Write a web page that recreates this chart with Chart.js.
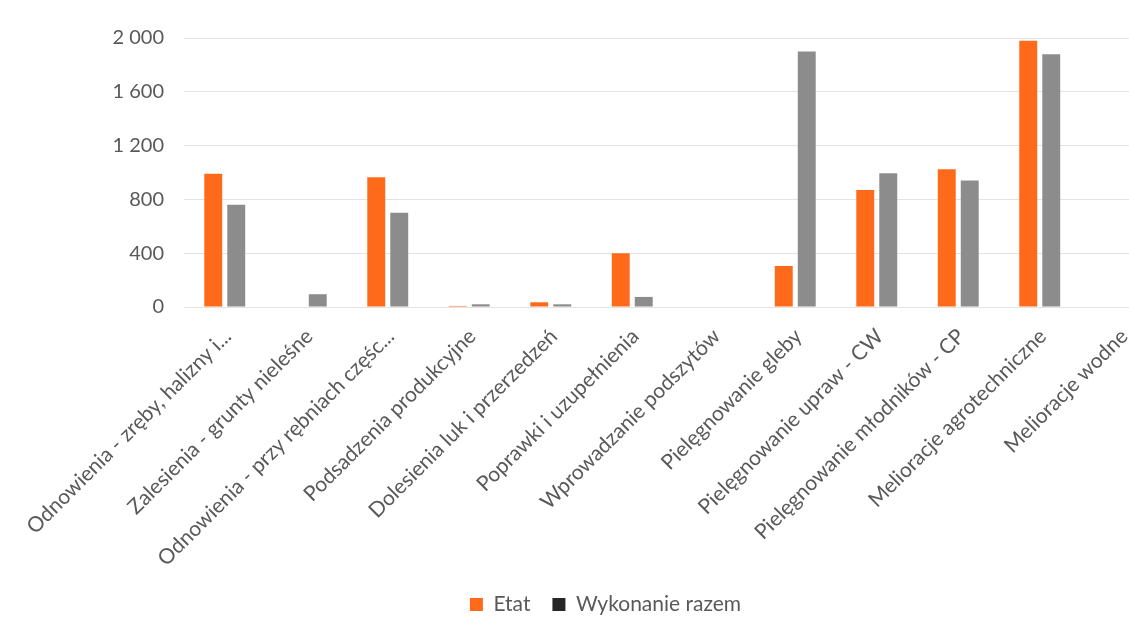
<!DOCTYPE html>
<html>
<head>
<meta charset="utf-8">
<script src="https://cdn.jsdelivr.net/npm/chart.js@4/dist/chart.umd.min.js"></script>
<style>
  html, body { margin: 0; padding: 0; background: #fff; overflow: hidden; }
  #wrap { width: 1170px; height: 637px; }
</style>
</head>
<body>
<div id="wrap"><canvas id="chart"></canvas></div>
<script>
// Categories and values
const categories = [
  'Odnowienia - zręby, halizny i...',
  'Zalesienia - grunty nieleśne',
  'Odnowienia - przy rębniach częśc...',
  'Podsadzenia produkcyjne',
  'Dolesienia luk i przerzedzeń',
  'Poprawki i uzupełnienia',
  'Wprowadzanie podszytów',
  'Pielęgnowanie gleby',
  'Pielęgnowanie upraw - CW',
  'Pielęgnowanie młodników - CP',
  'Melioracje agrotechniczne',
  'Melioracje wodne'
];
const etatValues = [990, 0, 965, 8, 35, 400, 0, 305, 870, 1025, 1980, 0];
const wykonanieValues = [760, 95, 700, 20, 20, 75, 0, 1900, 995, 940, 1880, 0];
const yTicks = [0, 400, 800, 1200, 1600, 2000];

const textColor = '#595959';
const fontFamily = 'Lato, "Open Sans", sans-serif';

const formatThousands = v => String(v).replace(/\B(?=(\d{3})+(?!\d))/g, ' ');

const chartCanvas = document.getElementById('chart');

const chart = new Chart(chartCanvas, {
    type: 'bar',
    data: {
        labels: categories,
        datasets: [{
            label: 'Etat',
            data: etatValues,
            backgroundColor: '#ff6a1a',
            categoryPercentage: 0.564,
            barPercentage: 0.78
        }, {
            label: 'Wykonanie razem',
            data: wykonanieValues,
            backgroundColor: '#8c8c8c',
            categoryPercentage: 0.564,
            barPercentage: 0.78
        }]
    },
    options: {
        responsive: true,
        maintainAspectRatio: false,
        animation: false,
        layout: {
            padding: { left: 49, right: 8, top: 38, bottom: 12 }
        },
        scales: {
            x: {
                grid: { display: false },
                border: { display: false },
                afterFit: axis => { axis.height = 265; },
                ticks: {
                    autoSkip: false,
                    minRotation: 45,
                    maxRotation: 45,
                    padding: 9,
                    labelOffset: 3,
                    color: textColor,
                    font: { family: fontFamily, size: 21 }
                }
            },
            y: {
                min: 0,
                max: 2000,
                afterBuildTicks: axis => { axis.ticks = yTicks.map(v => ({ value: v })); },
                afterFit: axis => { axis.width = 135; },
                grid: { color: '#e3e3e3', drawTicks: false },
                border: { display: false },
                ticks: {
                    padding: 20,
                    color: textColor,
                    font: { family: fontFamily, size: 20 },
                    callback: v => formatThousands(v)
                }
            }
        },
        plugins: {
            legend: {
                position: 'bottom',
                labels: {
                    boxWidth: 13,
                    boxHeight: 13,
                    padding: 22,
                    color: textColor,
                    font: { family: fontFamily, size: 21 },
                    generateLabels: c => {
                        const items = Chart.defaults.plugins.legend.labels.generateLabels(c);
                        // the reference draws the second legend key almost black
                        items[1].fillStyle = '#262626';
                        items[1].strokeStyle = '#262626';
                        items.forEach(it => { it.lineWidth = 0; });
                        return items;
                    }
                }
            },
            tooltip: { enabled: false }
        }
    }
});
</script>
</body>
</html>
